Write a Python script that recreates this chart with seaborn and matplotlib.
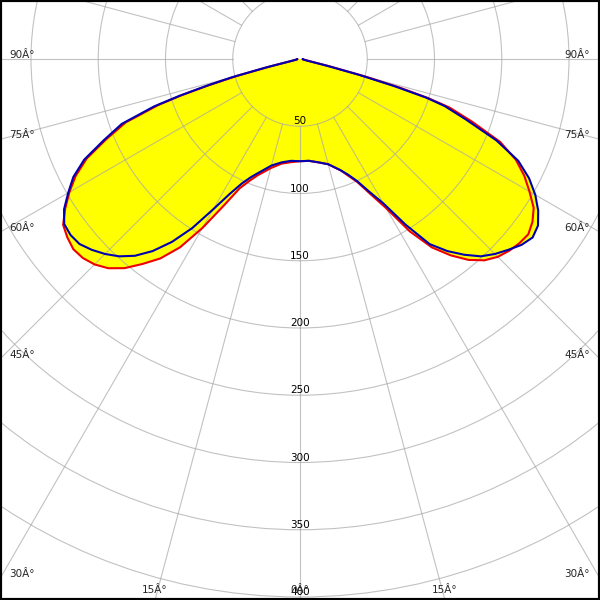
import numpy as np
import matplotlib
matplotlib.use("Agg")
import matplotlib.pyplot as plt
import seaborn as sns
from matplotlib.patches import Rectangle

# Polar light distribution (cd/klm), angle 0 = straight down, negative = left side
angles = [-90, -85, -80, -77, -76, -75, -74, -73, -72, -70,
          -67.5, -65, -62.5, -60, -57.5, -55, -52.5, -50, -47.5, -45,
          -42.5, -40, -37.5, -35, -32.5, -30, -27.5, -25, -22.5, -20, -15,
          -10, -5, 0,
          5, 10, 15, 20, 22.5, 25, 27.5, 30, 32.5, 35, 37.5,
          40, 42.5, 45, 47.5, 50, 52.5, 55, 57.5, 60, 62.5,
          65, 67.5, 70, 72, 73, 74, 75, 76, 77, 80,
          85, 90]

blue_curve = [2, 2, 3, 8, 26, 52, 72, 94, 114, 141,
              158, 177, 190, 199, 208, 214, 215, 214, 210, 205,
              199, 191, 180, 166, 149, 129, 113, 102, 95, 90, 82,
              78, 76, 76,
              76, 78, 81, 88, 93, 100, 111, 124, 146, 168, 180,
              190, 199, 205, 210, 215, 218, 216, 210, 202, 192,
              179, 158, 131, 113, 98, 72, 45, 20, 6, 3,
              2, 2]

red_curve = [2, 2, 3, 7, 23, 48, 70, 92, 111, 138,
             156, 175, 188, 198, 207, 215, 218, 220, 219, 216,
             211, 203, 192, 181, 166, 145, 123, 106, 98, 92, 84,
             79, 77, 76,
             76, 78, 81, 88, 94, 101, 113, 128, 152, 171, 184,
             195, 203, 208, 211, 213, 214, 211, 206, 197, 188,
             177, 161, 136, 117, 100, 77, 50, 24, 9, 3,
             2, 2]

ring_values = [50, 100, 150, 200, 250, 300, 350, 400]
spoke_angles = list(range(0, 360, 15))

# angle labels sit where the spokes leave the picture (pixel positions, from top-left)
left_labels = [("90Â°", 58), ("75Â°", 138), ("60Â°", 231), ("45Â°", 358), ("30Â°", 577)]
bottom_labels = [("15Â°", 155), ("0Â°", 300), ("15Â°", 445)]

sns.set_style("white")
plt.rcParams["font.family"] = ["DejaVu Sans"]

W = H = 600
cx, cy = 300, 59          # pole position in pixels (from top)
px_per_unit = 1.345
rmax = 470
half = rmax * px_per_unit

fig = plt.figure(figsize=(6, 6), dpi=100)
ax = fig.add_axes([(cx - half) / W, (H - cy - half) / H, 2 * half / W, 2 * half / H],
                  projection="polar")
ax.set_theta_zero_location("S")
ax.set_ylim(0, rmax)
ax.set_xticks([])
ax.set_yticks(ring_values)
ax.set_yticklabels([])
ax.yaxis.grid(True, color="#a8a8a8", lw=0.8, alpha=0.7)
ax.xaxis.grid(False)
ax.set_axisbelow(False)
ax.spines["polar"].set_visible(False)

theta = np.deg2rad(angles)

# yellow area = union of both curves
ax.fill(theta, red_curve, color="#ffff00", lw=0, zorder=1)
ax.fill(theta, blue_curve, color="#ffff00", lw=0, zorder=1)

# spokes start at the first ring
for a in spoke_angles:
    ax.plot([np.deg2rad(a)] * 2, [50, rmax], color="#a8a8a8", lw=0.8, alpha=0.7, zorder=2.5)

sns.lineplot(x=theta, y=red_curve, ax=ax, color="#ee0000", lw=1.5, sort=False, zorder=3)
sns.lineplot(x=theta, y=blue_curve, ax=ax, color="#0000b0", lw=1.5, sort=False, zorder=4)

for r in ring_values:
    ax.text(0, r, str(r), ha="center", va="bottom", fontsize=7.5, color="black", zorder=5)

for txt, y in left_labels:
    fig.text(9 / W, 1 - y / H, txt, ha="left", va="baseline", fontsize=7.5)
    fig.text(590 / W, 1 - y / H, txt, ha="right", va="baseline", fontsize=7.5)
for txt, x in bottom_labels:
    fig.text(x / W, 1 - 593 / H, txt, ha="center", va="baseline", fontsize=7.5)

fig.patches.append(Rectangle((0, 0), 1, 1, transform=fig.transFigure, fill=False,
                             ec="black", lw=3, zorder=10))

fig.savefig("out.png", dpi=100)
